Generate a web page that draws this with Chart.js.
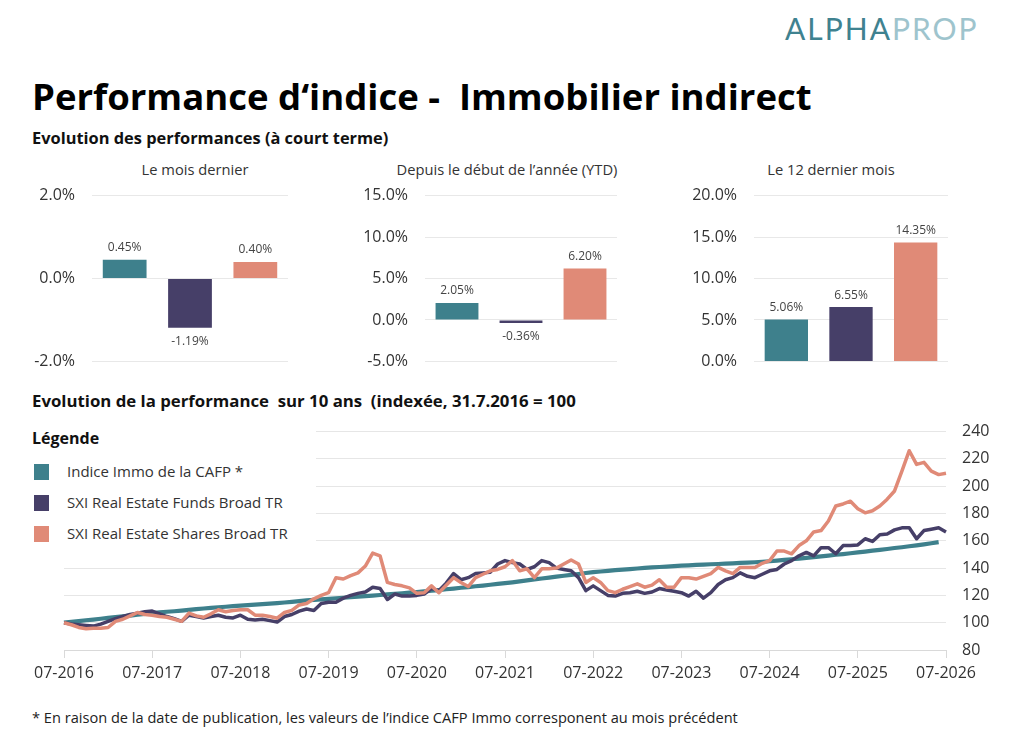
<!DOCTYPE html>
<html lang="fr">
<head>
<meta charset="utf-8">
<title>Performance d'indice - Immobilier indirect</title>
<script src="https://cdn.jsdelivr.net/npm/chart.js@4.4.0/dist/chart.umd.min.js"></script>
<style>
  body { margin: 0; width: 1024px; height: 735px; background: #fff; position: relative; overflow: hidden;
         font-family: "Open Sans", sans-serif; color: #222; }
  .abs { position: absolute; white-space: pre; }
  canvas { position: absolute; }
  .logo { left: 785px; top: 13px; font-family: Lato, sans-serif; font-weight: 400; font-size: 30px; line-height: 30px; letter-spacing: 2px; }
  .logo .a { color: #3f8290; }
  .logo .b { color: #9ec4cd; }
  .title { left: 32px; top: 78px; font-size: 36.5px; line-height: 36px; font-weight: 700; color: #000; }
  .sub { left: 32px; font-size: 16.4px; line-height: 16px; font-weight: 700; color: #111; }
  .ctitle { font-size: 14.7px; line-height: 14px; color: #333; transform: translateX(-50%); top: 162px; }
  .legend { left: 0; top: 420px; width: 316px; height: 128px; background: #fff; z-index: 2; }
  .legend .head { left: 32px; top: 10px; font-size: 16px; line-height: 16px; font-weight: 700; color: #111; }
  .legend .sw { position: absolute; left: 34px; width: 15px; height: 16px; }
  .legend .txt { left: 67px; font-size: 15px; line-height: 15px; color: #333; }
  .note { left: 32px; top: 710px; font-size: 14.6px; line-height: 14px; color: #222; }
</style>
</head>
<body>
<div class="abs logo"><span class="a">ALPHA</span><span class="b">PROP</span></div>
<div class="abs title">Performance d‘indice -  Immobilier indirect</div>
<div class="abs sub" style="top:130px">Evolution des performances (à court terme)</div>

<div class="abs ctitle" style="left:195px">Le mois dernier</div>
<div class="abs ctitle" style="left:507px">Depuis le début de l’année (YTD)</div>
<div class="abs ctitle" style="left:831px">Le 12 dernier mois</div>

<canvas id="bar1" width="300" height="219" style="left:0px;top:169px"></canvas>
<canvas id="bar2" width="296" height="219" style="left:333px;top:169px"></canvas>
<canvas id="bar3" width="298" height="219" style="left:662px;top:169px"></canvas>

<div class="abs sub" style="top:393px;font-size:16.8px">Evolution de la performance  sur 10 ans  (indexée, 31.7.2016 = 100</div>

<canvas id="lineChart" width="1024" height="294" style="left:0px;top:406px"></canvas>

<div class="abs legend" id="legend">
  <div class="abs head">Légende</div>
</div>

<div class="abs note">* En raison de la date de publication, les valeurs de l’indice CAFP Immo corresponent au mois précédent</div>

<script>
// colours
const TEAL = "#3e808c";
const PURPLE = "#463f68";
const SALMON = "#e08a77";
const seriesColors = [TEAL, PURPLE, SALMON];

// legend / series names
const seriesNames = ["Indice Immo de la CAFP *", "SXI Real Estate Funds Broad TR", "SXI Real Estate Shares Broad TR"];

// short term performance (%), order: CAFP, Funds, Shares
const lastMonth = [0.45, -1.19, 0.40];
const ytd = [2.05, -0.36, 6.20];
const last12 = [5.06, 6.55, 14.35];

// 10 year monthly index, 07-2016 = 100
const startYear = 2016;
const yearTicks = ["07-2016", "07-2017", "07-2018", "07-2019", "07-2020", "07-2021",
                   "07-2022", "07-2023", "07-2024", "07-2025", "07-2026"];

const cafp = [
  100, 100.6, 101.2, 101.8, 102.3, 102.9, 103.5, 104.1, 104.6, 105.2, 105.8, 106.4,
  107, 107.5, 108, 108.4, 108.9, 109.4, 109.9, 110.4, 110.8, 111.3, 111.7, 112.1,
  112.5, 112.9, 113.3, 113.6, 114, 114.4, 114.8, 115.3, 115.8, 116.3, 116.7, 117.1,
  117.5, 117.9, 118.3, 118.7, 119.1, 119.5, 119.9, 120.3, 120.7, 121.1, 121.5, 122,
  122.4, 122.9, 123.4, 123.9, 124.5, 125, 125.6, 126.1, 126.7, 127.2, 127.8, 128.4,
  129, 129.6, 130.3, 131, 131.7, 132.4, 133, 133.7, 134.4, 135, 135.7, 136.4,
  137, 137.5, 138, 138.5, 138.9, 139.3, 139.7, 140.1, 140.5, 140.8, 141.1, 141.5,
  141.8, 142, 142.3, 142.5, 142.8, 143, 143.3, 143.5, 143.8, 144, 144.3, 144.6,
  145, 145.5, 146, 146.5, 147, 147.5, 148, 148.6, 149.2, 149.8, 150.3, 150.9,
  151.5, 152.1, 152.8, 153.4, 154, 154.7, 155.3, 156, 156.7, 157.4, 158.2, 159
];

const funds = [
  100, 99, 98.5, 98, 97.5, 99, 101, 103, 104.5, 106, 107, 108,
  108.5, 106.5, 104.5, 103, 101, 105.5, 104.5, 103.5, 104.5, 105.5, 104, 103.5,
  105.5, 102.5, 102, 102.5, 101.5, 100.5, 104.5, 106, 108.5, 110, 109, 114,
  115, 115, 118, 120, 121.5, 122.5, 126, 125, 117, 121, 119.5, 119.5,
  120, 121, 125, 123.5, 129, 136, 131.5, 133, 136, 136.5, 137, 143,
  145.5, 144, 143, 139, 141, 145.5, 144, 140, 139, 138, 133, 123.5,
  127, 123.5, 120, 119.5, 121.5, 122, 123, 121.5, 122.5, 125, 124, 123,
  122, 119.5, 123, 118, 122, 128, 131.5, 133, 136.5, 134, 133, 135.5,
  138, 139, 143, 145.5, 149, 151.5, 149, 155, 155, 150.5, 156.5, 156.5,
  157, 161.5, 159.5, 164.5, 165, 168, 169.5, 169.5, 161.5, 167.5, 168.5, 169.5,
  166.5
];

const shares = [
  100, 98.5, 96.5, 95.5, 96, 96, 96.5, 101, 102.5, 105, 107.5, 106,
  105.5, 104.5, 104, 102.5, 101, 107, 105, 104, 106.5, 109.5, 108, 109,
  109.5, 109.5, 105.5, 105.5, 104.5, 103.3, 107.5, 109, 113, 114, 117.5, 120,
  122, 133, 132, 134.5, 136.5, 141.5, 151, 149, 129.5, 128, 127, 125.5,
  121.5, 122, 127, 122, 127.5, 133, 129.5, 126.5, 133, 135.5, 138, 139,
  141, 145.5, 138, 139.5, 133, 139.5, 139.5, 140, 143, 146, 143, 129.5,
  133, 129.5, 123.5, 122, 124.5, 126.5, 128.5, 126, 127.5, 131.5, 126, 126,
  133, 133, 132, 134, 136, 140.5, 138, 136, 140.5, 140.5, 140.5, 143.5,
  145.5, 152.5, 152.5, 150.5, 156.5, 160, 166.5, 167.5, 174.5, 185.5, 187, 189,
  183.5, 180.5, 182, 185.5, 190.5, 196.5, 211, 226, 216, 217.5, 211, 208.5,
  209.5
];

// month labels 07-2016 .. 07-2026
const months = [];
for (let i = 0; i < shares.length; i++) {
  const m = (6 + i) % 12 + 1;
  const y = startYear + Math.floor((6 + i) / 12);
  months.push(String(m).padStart(2, "0") + "-" + y);
}

// legend
const legendEl = document.getElementById("legend");
seriesNames.forEach((name, i) => {
  const sw = document.createElement("div");
  sw.className = "sw";
  sw.style.top = (44 + i * 31) + "px";
  sw.style.background = seriesColors[i];
  legendEl.appendChild(sw);
  const t = document.createElement("div");
  t.className = "abs txt";
  t.style.top = (44 + i * 31) + "px";
  t.textContent = name;
  legendEl.appendChild(t);
});

// value labels above / below bars
const valueLabels = {
  id: "valueLabels",
  afterDatasetsDraw(chart) {
    const ctx = chart.ctx;
    const values = chart.data.datasets[0].data;
    ctx.save();
    ctx.font = '12px "Open Sans"';
    ctx.fillStyle = "#444";
    ctx.textAlign = "center";
    ctx.textBaseline = "middle";
    chart.getDatasetMeta(0).data.forEach((bar, i) => {
      const v = values[i];
      const y = v >= 0 ? bar.y - 12 : bar.y + 14;
      ctx.fillText(v.toFixed(2) + "%", bar.x, y);
    });
    ctx.restore();
  }
};

function makeBar(id, values, min, max, step) {
  return new Chart(document.getElementById(id), {
    type: "bar",
    data: {
      labels: seriesNames,
      datasets: [{ data: values, backgroundColor: seriesColors, borderWidth: 0,
                   categoryPercentage: 1, barPercentage: 0.67 }]
    },
    options: {
      responsive: false,
      animation: false,
      layout: { padding: { left: 0, right: 12, top: 0, bottom: 0 } },
      plugins: { legend: { display: false }, tooltip: { enabled: false } },
      scales: {
        x: { display: false },
        y: {
          min: min, max: max,
          ticks: { stepSize: step, padding: 17, color: "#333", font: { size: 16 },
                   callback: v => v.toFixed(1) + "%" },
          grid: { color: "#e8e8e8", drawTicks: false },
          border: { display: false },
          afterFit: s => { s.width = 92; }
        }
      }
    },
    plugins: [valueLabels]
  });
}

function draw() {
  Chart.defaults.font.family = '"Open Sans", sans-serif';

  makeBar("bar1", lastMonth, -2, 2, 2);
  makeBar("bar2", ytd, -5, 15, 5);
  makeBar("bar3", last12, 0, 20, 5);

  new Chart(document.getElementById("lineChart"), {
    type: "line",
    data: {
      labels: months,
      datasets: [
        { label: seriesNames[0], data: cafp, borderColor: TEAL, borderWidth: 4.2, order: 3 },
        { label: seriesNames[1], data: funds, borderColor: PURPLE, borderWidth: 3.5, order: 2 },
        { label: seriesNames[2], data: shares, borderColor: SALMON, borderWidth: 3.5, order: 1 }
      ]
    },
    options: {
      responsive: false,
      animation: false,
      elements: { point: { radius: 0 }, line: { tension: 0, borderJoinStyle: "round" } },
      layout: { padding: { left: 64, top: 10, right: 0, bottom: 0 } },
      plugins: { legend: { display: false }, tooltip: { enabled: false } },
      scales: {
        x: {
          grid: { drawOnChartArea: false, tickLength: 8, color: "#d9d9d9" },
          border: { color: "#d9d9d9" },
          ticks: {
            autoSkip: false, maxRotation: 0, padding: 6, color: "#333", font: { size: 16 },
            callback: (v, i) => (yearTicks.includes(months[i]) ? months[i] : null)
          },
          afterFit: s => { s.height = 50; }
        },
        y: {
          position: "right",
          min: 80, max: 240,
          ticks: { stepSize: 20, padding: 16, color: "#333", font: { size: 16 } },
          grid: { color: "#e6e6e6", drawTicks: false },
          border: { display: false },
          afterFit: s => { s.width = 78; }
        }
      }
    }
  });
}

Promise.all([
  document.fonts.load('16px "Open Sans"'),
  document.fonts.load('bold 16px "Open Sans"'),
  document.fonts.load('30px Lato')
]).then(draw, draw);
</script>
</body>
</html>
